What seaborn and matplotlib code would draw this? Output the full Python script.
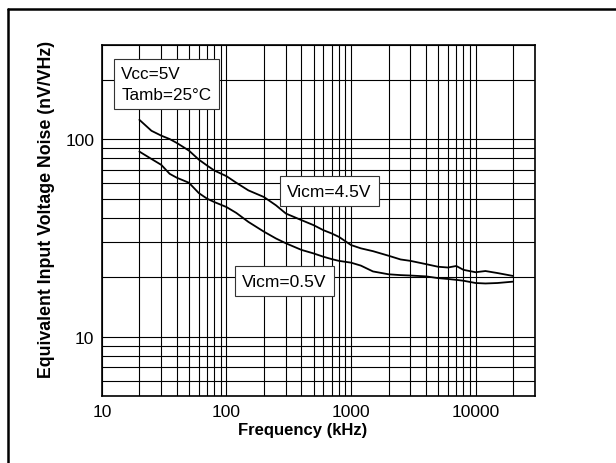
import matplotlib
matplotlib.use("Agg")
import matplotlib.pyplot as plt
import matplotlib.ticker as mticker
from matplotlib.lines import Line2D
import seaborn as sns
import pandas as pd

# ---- data ----
freq_khz = [20, 25, 30, 35, 40, 50, 60, 70, 80, 100, 120, 150, 200, 250, 300,
            400, 500, 600, 700, 800, 1000, 1200, 1500, 2000, 2500, 3000, 4000,
            5000, 6000, 7000, 8000, 10000, 12000, 15000, 20000]
noise_vicm_45 = [125.1, 110.1, 104.0, 100.0, 95.5, 87.4, 78.7, 73.4, 69.3, 64.9,
                 60.1, 55.0, 50.9, 46.2, 42.0, 38.9, 36.7, 34.6, 33.3, 32.0,
                 29.1, 28.0, 27.1, 25.7, 24.6, 24.2, 23.3, 22.6, 22.4, 22.8,
                 21.8, 21.2, 21.5, 21.0, 20.3]
noise_vicm_05 = [86.4, 79.3, 74.0, 66.7, 63.7, 60.1, 53.3, 49.9, 48.0, 45.3,
                 42.3, 38.1, 34.0, 31.4, 29.7, 27.5, 26.4, 25.4, 24.7, 24.2,
                 23.7, 22.9, 21.4, 20.7, 20.5, 20.4, 20.2, 19.8, 19.6, 19.4,
                 19.2, 18.7, 18.6, 18.7, 19.0]
series_labels = ["Vicm=4.5V", "Vicm=0.5V"]
x_tick_values = [10, 100, 1000, 10000]
x_tick_labels = ["10", "100", "1000", "10000"]
y_tick_values = [10, 100]
y_tick_labels = ["10", "100"]
cond_text = "Vcc=5V\nTamb=25°C"
x_label = "Frequency (kHz)"
y_label = "Equivalent Input Voltage Noise (nV/VHz)"

df = pd.concat([
    pd.DataFrame({"f": freq_khz, "noise": noise_vicm_45, "series": series_labels[0]}),
    pd.DataFrame({"f": freq_khz, "noise": noise_vicm_05, "series": series_labels[1]}),
])

sns.set_theme(style="white")
plt.rcParams["font.family"] = ["Liberation Sans", "DejaVu Sans"]
plt.rcParams["text.color"] = "black"
plt.rcParams["axes.labelcolor"] = "black"

fig = plt.figure(figsize=(6.16, 4.64), dpi=100)
ax = fig.add_axes([0.1654, 0.1438, 0.7031, 0.7577])

sns.lineplot(data=df, x="f", y="noise", hue="series",
             palette=["black", "black"], linewidth=1.3, legend=False,
             ax=ax, sort=False, estimator=None)

ax.set_xscale("log")
ax.set_yscale("log")
ax.set_xlim(10, 30000)
ax.set_ylim(5, 300)

ax.xaxis.set_major_locator(mticker.FixedLocator(x_tick_values))
ax.xaxis.set_major_formatter(mticker.FixedFormatter(x_tick_labels))
ax.yaxis.set_major_locator(mticker.FixedLocator(y_tick_values))
ax.yaxis.set_major_formatter(mticker.FixedFormatter(y_tick_labels))
ax.xaxis.set_minor_locator(mticker.LogLocator(base=10, subs=range(2, 10), numticks=20))
ax.yaxis.set_minor_locator(mticker.LogLocator(base=10, subs=range(2, 10), numticks=20))
ax.xaxis.set_minor_formatter(mticker.NullFormatter())
ax.yaxis.set_minor_formatter(mticker.NullFormatter())

ax.grid(True, which="both", color="black", linewidth=0.8)
ax.tick_params(which="both", length=0, labelsize=12.5, colors="black", pad=5.5)
for s in ax.spines.values():
    s.set_color("black")
    s.set_linewidth(1.2)

ax.set_xlabel(x_label, fontsize=12, fontweight="bold", color="black")
ax.set_ylabel(y_label, fontsize=12.8, fontweight="bold", color="black")
ax.xaxis.set_label_coords(0.464, -0.074)
ax.yaxis.set_label_coords(-0.108, 0.533)

box = dict(boxstyle="square,pad=0.42", fc="white", ec="#333333", lw=0.8)
ax.text(0.149, 0.888, cond_text, transform=ax.transAxes, ha="center", va="center",
        multialignment="left", fontsize=12.3, linespacing=1.45, bbox=box, zorder=5,
        color="black")
ax.text(671, 54.5, series_labels[0], ha="center", va="center", fontsize=12.5,
        bbox=box, zorder=5, color="black")
ax.text(292, 19.1, series_labels[1], ha="center", va="center", fontsize=12.5,
        bbox=box, zorder=5, color="black")

# outer frame of the figure panel
fig.add_artist(Line2D([0.0122, 0.0122], [0.0, 0.978], transform=fig.transFigure,
                      color="black", linewidth=1.8))
fig.add_artist(Line2D([0.0122, 1.0], [0.978, 0.978], transform=fig.transFigure,
                      color="black", linewidth=1.8))

fig.savefig("out.png", dpi=100)
